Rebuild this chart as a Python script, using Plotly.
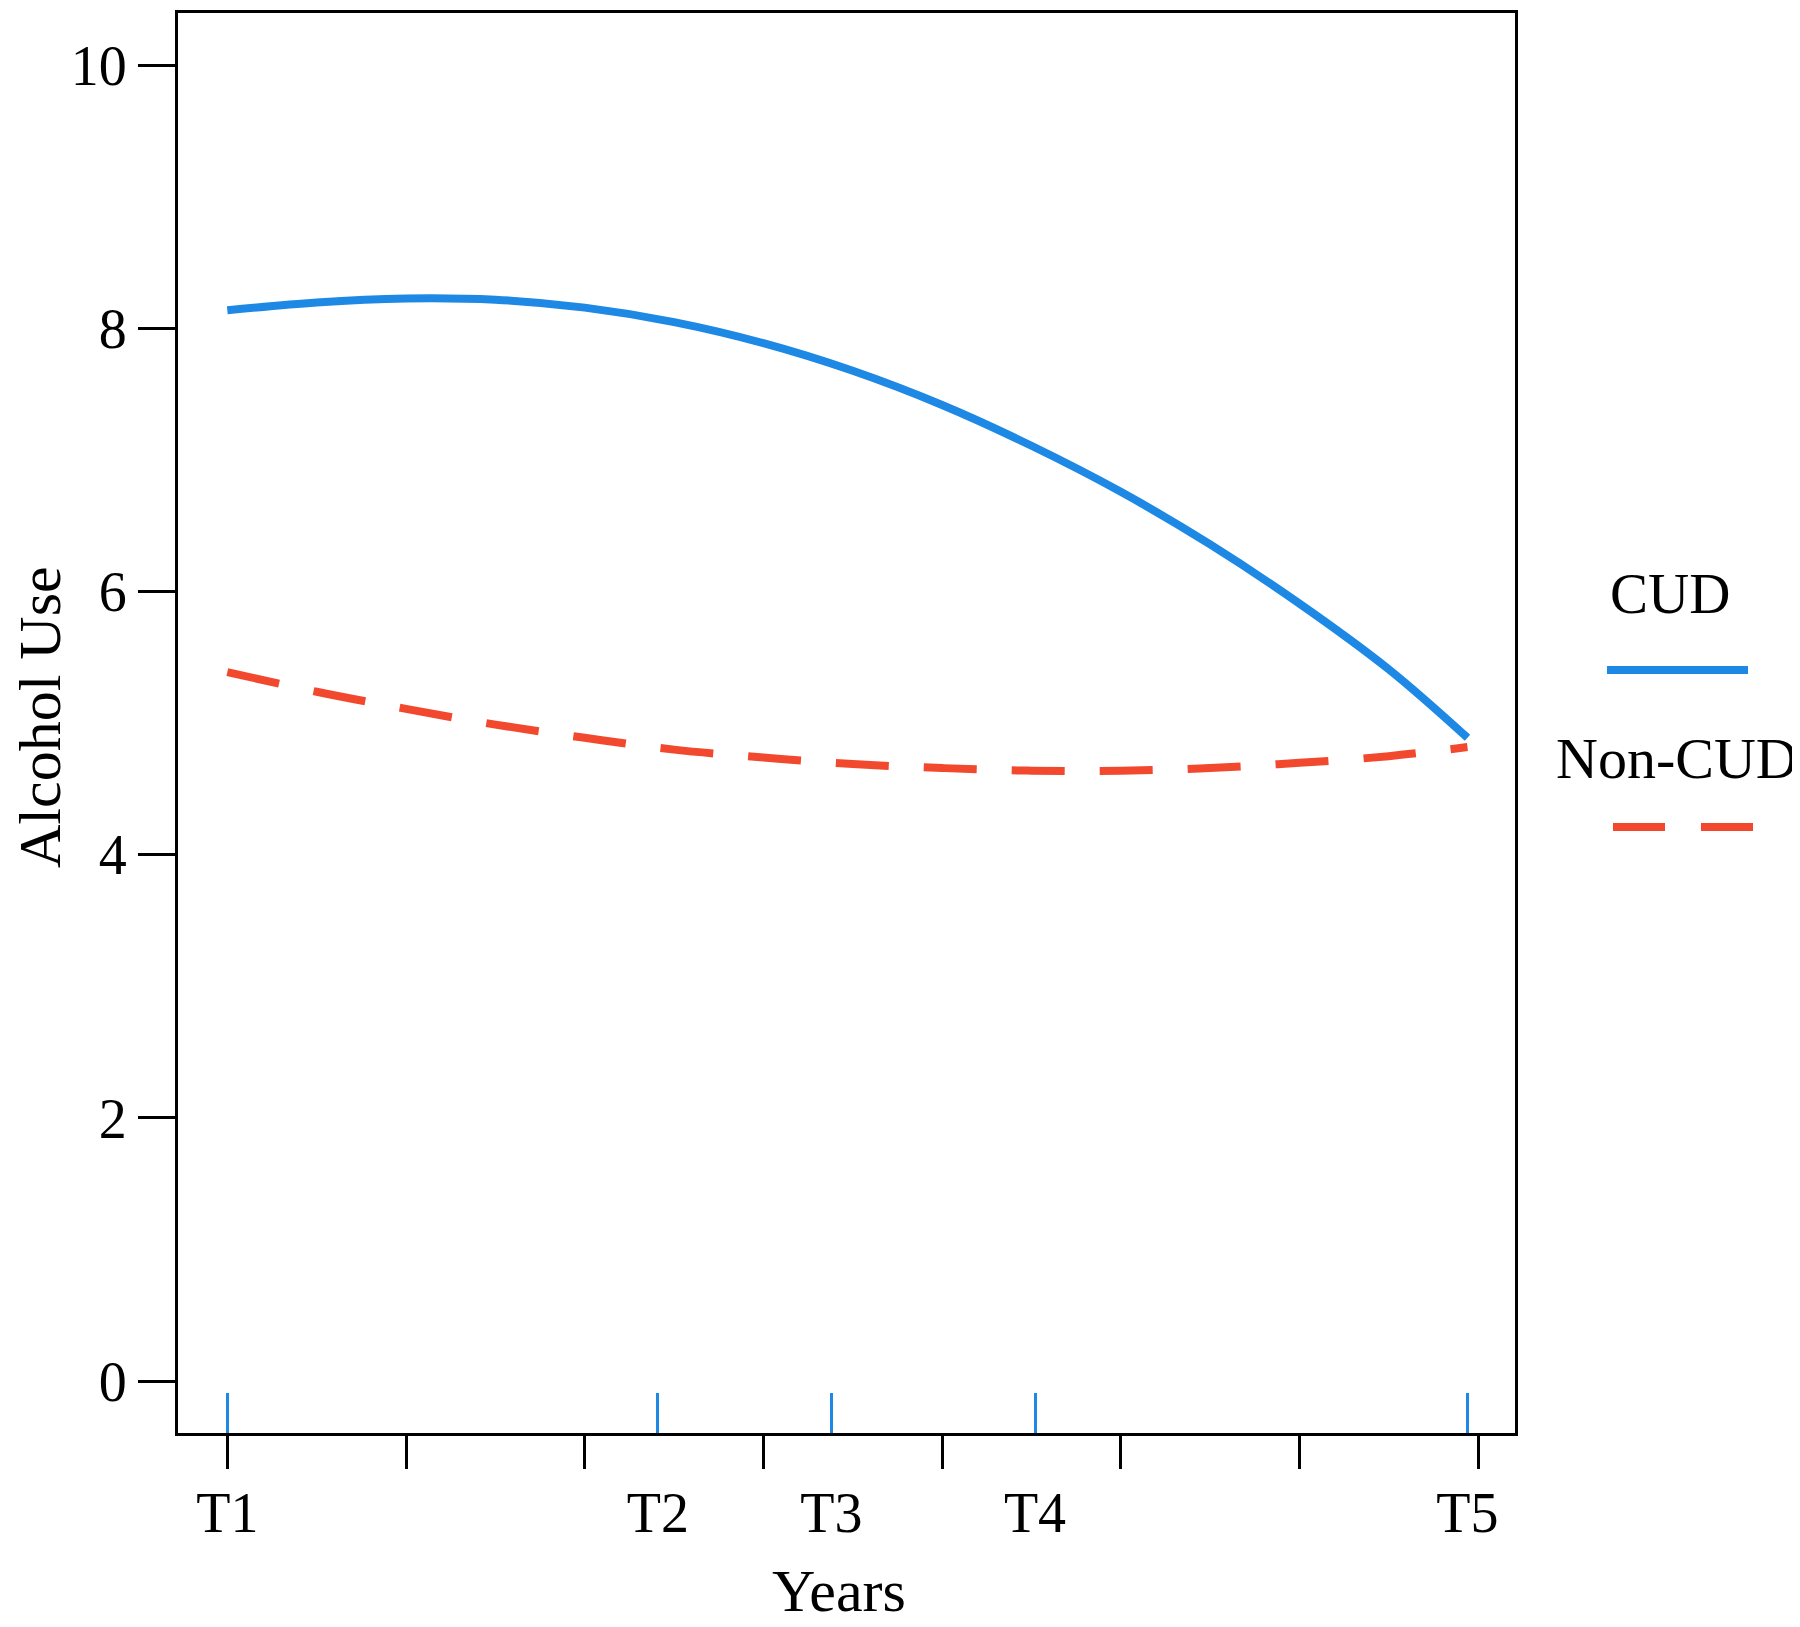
import plotly.graph_objects as go

# ---- data ----
years = [0, 0.5, 1.0, 1.5, 2.0, 2.5, 3.0, 3.5, 4.0, 4.5, 5.0, 5.5, 6.0, 6.5, 6.94]
cud = [8.14, 8.20, 8.23, 8.22, 8.16, 8.05, 7.89, 7.68, 7.42, 7.11, 6.76, 6.36, 5.91, 5.41, 4.89]
non_cud = [5.39, 5.24, 5.11, 4.99, 4.89, 4.80, 4.74, 4.69, 4.66, 4.64, 4.64, 4.66, 4.70, 4.75, 4.82]

wave_positions = [0, 2.41, 3.38, 4.52, 6.94]
wave_labels = ["T1", "T2", "T3", "T4", "T5"]
year_ticks = [0, 1, 2, 3, 4, 5, 6, 7]
y_ticks = [0, 2, 4, 6, 8, 10]
series_names = ["CUD", "Non-CUD"]
x_title = "Years"
y_title = "Alcohol Use"

# ---- style ----
BLUE = "#1E88E5"
RED = "#F2492E"
FONT = "Liberation Serif"
OFF = 8  # default page margin around the plot div
W, H = 1800 - OFF, 1627 - OFF
# plot area in page px, converted to figure px
L, R, T, B = 178 - OFF, 1515 - OFF, 13 - OFF, 1433 - OFF

X_RANGE = [-0.276, 7.206]
Y_RANGE = [-0.395, 10.40]

fig = go.Figure()
fig.add_trace(go.Scatter(x=years, y=non_cud, mode="lines", name=series_names[1],
                         line=dict(color=RED, width=8, dash="53px,35px", shape="spline", smoothing=1.0),
                         showlegend=False, hoverinfo="skip"))
fig.add_trace(go.Scatter(x=years, y=cud, mode="lines", name=series_names[0],
                         line=dict(color=BLUE, width=8, shape="spline", smoothing=1.0),
                         showlegend=False, hoverinfo="skip"))
# empty trace so the secondary (year-tick) axis is drawn
fig.add_trace(go.Scatter(x=[None], y=[None], xaxis="x2", showlegend=False, hoverinfo="skip"))

def px_to_paper_x(px):
    return (px - OFF - L) / (R - L)

def px_to_paper_y(py):
    return (B - (py - OFF)) / (B - T)

# axis titles (page px positions)
fig.add_annotation(x=px_to_paper_x(40), y=px_to_paper_y(717), xref="paper", yref="paper",
                   text=y_title, textangle=-90, showarrow=False,
                   font=dict(family=FONT, size=60, color="black"),
                   xanchor="center", yanchor="middle")
fig.add_annotation(x=px_to_paper_x(839), y=px_to_paper_y(1591), xref="paper", yref="paper",
                   text=x_title, showarrow=False,
                   font=dict(family=FONT, size=60, color="black"),
                   xanchor="center", yanchor="middle")

# legend: text above line samples (page px positions)
fig.add_annotation(x=px_to_paper_x(1670), y=px_to_paper_y(593), xref="paper", yref="paper",
                   text=series_names[0], showarrow=False, font=dict(family=FONT, size=57, color="black"),
                   xanchor="center", yanchor="middle")
fig.add_annotation(x=px_to_paper_x(1677), y=px_to_paper_y(758), xref="paper", yref="paper",
                   text=series_names[1], showarrow=False, font=dict(family=FONT, size=58, color="black"),
                   xanchor="center", yanchor="middle")
fig.add_shape(type="line", xref="paper", yref="paper",
              x0=px_to_paper_x(1607), x1=px_to_paper_x(1748),
              y0=px_to_paper_y(670), y1=px_to_paper_y(670),
              line=dict(color=BLUE, width=8))
fig.add_shape(type="line", xref="paper", yref="paper",
              x0=px_to_paper_x(1613), x1=px_to_paper_x(1753),
              y0=px_to_paper_y(827), y1=px_to_paper_y(827),
              line=dict(color=RED, width=8, dash="52px,36px"))

fig.update_layout(
    width=W, height=H,
    margin=dict(l=L, r=W - R, t=T, b=H - B, autoexpand=False),
    paper_bgcolor="white", plot_bgcolor="white",
    font=dict(family=FONT, color="black"),
    xaxis=dict(range=X_RANGE, tickmode="array", tickvals=wave_positions, ticktext=wave_labels,
               ticks="inside", ticklen=40, tickcolor=BLUE, tickwidth=3,
               ticklabelstandoff=29, automargin=False,
               tickfont=dict(family=FONT, size=56, color="black"),
               showgrid=False, zeroline=False, showline=True, linecolor="black", linewidth=3,
               mirror=True),
    xaxis2=dict(range=X_RANGE, overlaying="x", anchor="y", side="bottom",
                tickmode="array", tickvals=year_ticks, ticks="outside", ticklen=35,
                tickcolor="black", tickwidth=2.5, showticklabels=False, automargin=False,
                showgrid=False, zeroline=False, showline=False),
    yaxis=dict(range=Y_RANGE, tickmode="array", tickvals=y_ticks,
               ticks="outside", ticklen=37, tickcolor="black", tickwidth=2.5, automargin=False,
               tickfont=dict(family=FONT, size=56, color="black"),
               showgrid=False, zeroline=False, showline=True, linecolor="black", linewidth=3,
               mirror=True),
)

fig.write_html("out.html")
